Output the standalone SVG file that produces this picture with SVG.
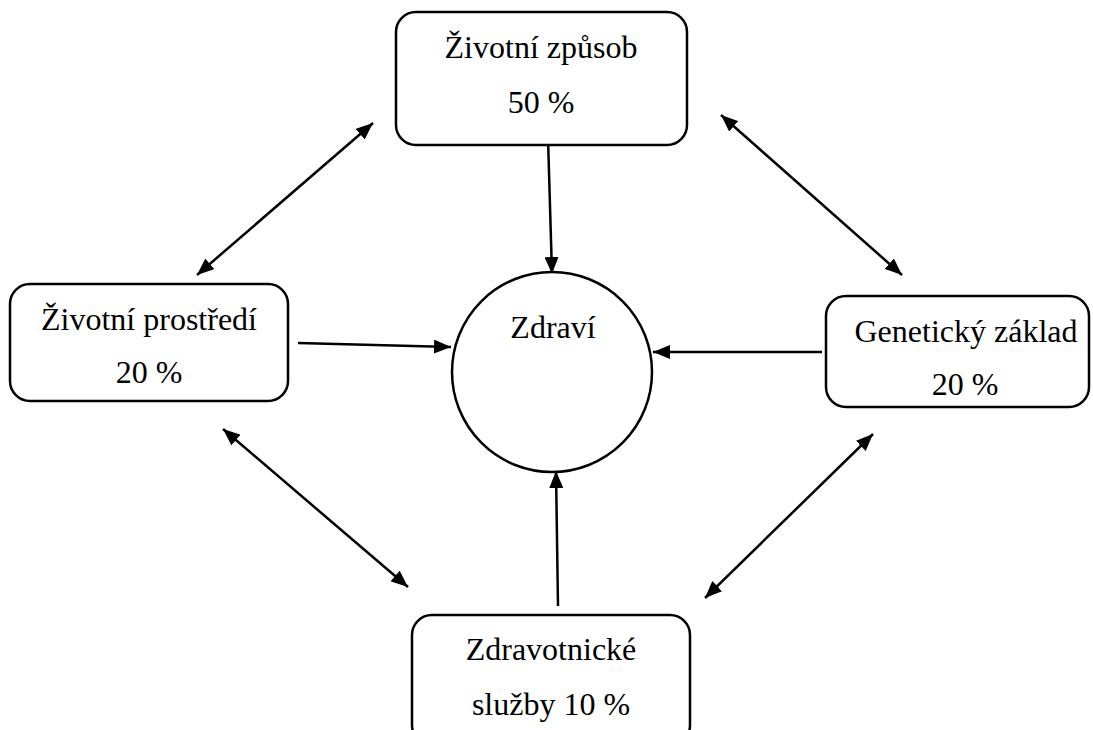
<svg xmlns="http://www.w3.org/2000/svg" width="1093" height="730" viewBox="0 0 1093 730">
<style>
.box{fill:#fff;stroke:#000;stroke-width:2.5}
.t{font-size:32px;fill:#000;text-anchor:middle}
.c{stroke:#000;stroke-width:2.5;fill:none}
</style>
<defs>
<marker id="ah" viewBox="0 0 17 14" refX="17" refY="7" markerWidth="17" markerHeight="14" markerUnits="userSpaceOnUse" orient="auto-start-reverse">
<path d="M0,0 L17,7 L0,14 Z" fill="#000"/>
</marker>
</defs>
<rect width="1093" height="730" fill="#fff"/>
<g id="connectors">
<line class="c" x1="548" y1="138" x2="552" y2="274" marker-end="url(#ah)"/>
<line class="c" x1="298" y1="343" x2="451" y2="347" marker-end="url(#ah)"/>
<line class="c" x1="822" y1="352" x2="653" y2="352" marker-end="url(#ah)"/>
<line class="c" x1="558" y1="606" x2="556" y2="471" marker-end="url(#ah)"/>
<line class="c" x1="373" y1="123" x2="197" y2="275" marker-start="url(#ah)" marker-end="url(#ah)"/>
<line class="c" x1="721" y1="115" x2="902" y2="275" marker-start="url(#ah)" marker-end="url(#ah)"/>
<line class="c" x1="223" y1="429" x2="408" y2="587" marker-start="url(#ah)" marker-end="url(#ah)"/>
<line class="c" x1="873" y1="434" x2="705" y2="598" marker-start="url(#ah)" marker-end="url(#ah)"/>
</g>
<g id="zivotni-zpusob" font-family="Liberation Serif, Times New Roman, DejaVu Serif, serif">
<rect class="box" x="396" y="12" width="291" height="133" rx="20"/>
<text class="t" x="541" y="58">Životní způsob</text>
<text class="t" x="541" y="113">50 %</text>
</g>
<g id="zivotni-prostredi" font-family="Liberation Serif, Times New Roman, DejaVu Serif, serif">
<rect class="box" x="10" y="284" width="278" height="117" rx="20"/>
<text class="t" x="149" y="330">Životní prostředí</text>
<text class="t" x="149" y="383">20 %</text>
</g>
<g id="geneticky-zaklad" font-family="Liberation Serif, Times New Roman, DejaVu Serif, serif">
<rect class="box" x="826" y="296" width="263" height="111" rx="20"/>
<text class="t" x="966" y="342">Genetický základ</text>
<text class="t" x="965" y="395">20 %</text>
</g>
<g id="zdravotnicke-sluzby" font-family="Liberation Serif, Times New Roman, DejaVu Serif, serif">
<rect class="box" x="412" y="615" width="278" height="130" rx="20"/>
<text class="t" x="551" y="660">Zdravotnické</text>
<text class="t" x="551" y="715">služby 10 %</text>
</g>
<g id="zdravi" font-family="Liberation Serif, Times New Roman, DejaVu Serif, serif">
<circle class="box" cx="552" cy="372" r="100"/>
<text class="t" x="553" y="338">Zdraví</text>
</g>
</svg>
